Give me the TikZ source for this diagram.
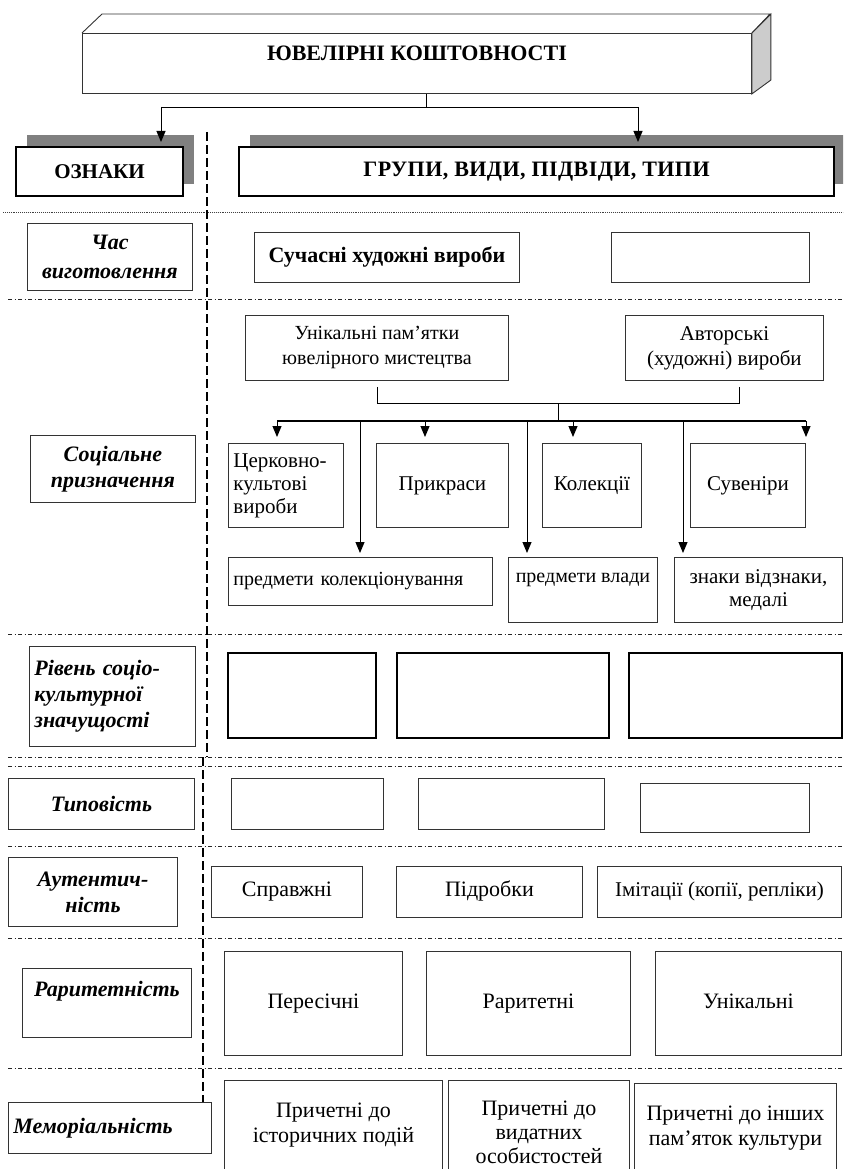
\documentclass[tikz,border=0pt]{standalone}
\usepackage{fontspec}
\setmainfont{Liberation Serif}
\usetikzlibrary{arrows.meta}
\usetikzlibrary{shadows}
\tikzset{
  txt/.style={font=\fontsize{21}{25}\selectfont},
  bigtxt/.style={font=\fontsize{22}{25}\selectfont},
  oneline/.style={text height=15pt, text depth=5pt},
  box/.style={draw=black!80, line width=0.9pt, anchor=north west, inner sep=4pt, txt},
  thickbox/.style={box, draw=black, line width=1.5pt},
  headbox/.style={draw=black, line width=2pt, fill=white, anchor=north west,
    font=\fontsize{21}{25}\selectfont\bfseries,
    drop shadow={shadow xshift=11pt, shadow yshift=12pt, fill=gray, opacity=1}},
  signbox/.style={box, font=\fontsize{22}{26}\selectfont\bfseries\itshape},
  arr/.style={-{Triangle[length=11pt,width=9pt]}, line width=1pt},
  link/.style={line width=0.9pt},
  sep/.style={line width=1pt, black!85, dash pattern=on 4pt off 2.5pt on 1pt off 2.5pt},
  vsep/.style={line width=1.1pt, dash pattern=on 9pt off 4pt},
}

\begin{document}
\begin{tikzpicture}[x=1pt, y=-1pt]
  \clip (0,0) rectangle (843,1169);
  \useasboundingbox (0,0) rectangle (843,1169);

  % title block
  \node[box, fill=white, minimum width=669pt, minimum height=60pt,
    font=\fontsize{22}{26}\selectfont\bfseries, text depth=20pt] (title) at (82,33) {ЮВЕЛІРНІ КОШТОВНОСТІ};
  \draw[link, black!80] (title.north west) -- ++(20,-19) -- ++(668,0) -- (title.north east);
  \draw[link, black!80, fill=black!20] (title.north east) -- ++(19,-19) -- ++(0,66) -- (title.south east) -- cycle;

  \node[headbox, minimum width=167pt, minimum height=49pt] (ozn) at (15,146) {ОЗНАКИ};
  \node[headbox, minimum width=595pt, minimum height=49pt,
    font=\fontsize{22}{25}\selectfont\bfseries\addfontfeature{LetterSpace=2}] (grp) at (238,146) {ГРУПИ, ВИДИ, ПІДВІДИ, ТИПИ};

  \coordinate (split) at (426,107);
  \coordinate (toL) at (161,107);
  \coordinate (toR) at (638,107);
  \draw[link] (title.south -| split) -- (split);
  \draw[link] (toL) -- (toR);
  \draw[arr, shorten >=4pt] (toL) -- (toL |- ozn.north);
  \draw[arr, shorten >=4pt] (toR) -- (toR |- grp.north);

  % separators
  \draw[densely dotted, line width=0.9pt, black!75] (3,212) -- (843,212);
  \foreach \y in {299,634,757,766,846,938,1068}
    \draw[sep] (8,\y) -- (843,\y);
  \draw[vsep] (207,132) -- (207,757);
  \draw[vsep] (203,757) -- (203,1102);

  % time of making
  \node[signbox, minimum width=165pt, minimum height=67pt, align=center] (chas) at (27,223) {Час\\[3pt]виготовлення};
  \node[box, minimum width=265pt, minimum height=50pt, font=\fontsize{22}{25}\selectfont\bfseries] (suchas) at (254,232) {Сучасні художні вироби};
  \node[box, minimum width=198pt, minimum height=50pt] (chasE) at (611,232) {};

  % social purpose
  \node[box, minimum width=263pt, minimum height=65pt, align=center, font=\fontsize{20}{25}\selectfont] (unik) at (245,315) {Унікальні пам’ятки\\ювелірного мистецтва};
  \node[box, minimum width=198pt, minimum height=65pt, align=center] (avt) at (625,315) {Авторські\\(художні) вироби};
  \node[signbox, minimum width=165pt, minimum height=67pt, align=center] (soc) at (30,435) {Соціальне\\призначення};

  \node[box, minimum width=115pt, minimum height=84pt, text width=105pt, align=left, font=\fontsize{21}{23}\selectfont] (tserk) at (228,443) {Церковно-\\культові\\вироби};
  \node[box, minimum width=132pt, minimum height=84pt] (prykr) at (376,443) {Прикраси};
  \node[box, minimum width=99pt, minimum height=84pt] (kolek) at (542,443) {Колекції};
  \node[box, minimum width=115pt, minimum height=84pt] (suven) at (690,443) {Сувеніри};
  \node[box, minimum width=264pt, minimum height=48pt, text width=254pt, align=left, font=\fontsize{20}{25}\selectfont] (predk) at (228,557) {предмети колекціонування};
  \node[box, minimum width=149pt, minimum height=65pt, inner xsep=3pt, text depth=25pt, font=\fontsize{20}{25}\selectfont] (vlady) at (508,557) {предмети влади};
  \node[box, minimum width=168pt, minimum height=65pt, align=center, font=\fontsize{21}{23}\selectfont] (znaky) at (674,557) {знаки відзнаки,\\медалі};

  \coordinate (join) at (558,403);
  \coordinate (fork) at (558,421);
  \draw[link] ([yshift=-6pt]unik.south) |- (join);
  \draw[link] ([xshift=15pt, yshift=-6pt]avt.south) |- (join);
  \draw[link] (join) -- (fork);
  \coordinate (f1) at (277,421);
  \coordinate (f2) at (425,421);
  \coordinate (f3) at (573,421);
  \coordinate (f4) at (806,421);
  \coordinate (g1) at (360,421);
  \coordinate (g2) at (527,421);
  \coordinate (g3) at (683,421);
  \draw[line width=1.1pt] (f1) -- (f4);
  \foreach \c/\n in {f1/tserk, f2/prykr, f3/kolek, f4/suven}
    \draw[arr, shorten >=6pt] (\c) -- (\c |- \n.north);
  \foreach \c/\n in {g1/predk, g2/vlady, g3/znaky}
    \draw[arr, shorten >=4pt] (\c) -- (\c |- \n.north);

  % socio-cultural level
  \node[signbox, minimum width=166pt, minimum height=100pt, text width=156pt, align=left] (riven) at (29,646) {Рівень соціо-\\культурної\\значущості};
  \node[thickbox, minimum width=148pt, minimum height=85pt] (rivA) at (227,652) {};
  \node[thickbox, minimum width=212pt, minimum height=85pt] (rivB) at (396,652) {};
  \node[thickbox, minimum width=213pt, minimum height=85pt] (rivC) at (628,652) {};

  % typicality
  \node[signbox, minimum width=186pt, minimum height=51pt] (typ) at (8,778) {Типовість};
  \node[box, minimum width=152pt, minimum height=51pt] (typA) at (231,778) {};
  \node[box, minimum width=186pt, minimum height=51pt] (typB) at (418,778) {};
  \node[box, minimum width=169pt, minimum height=49pt] (typC) at (640,783) {};

  % authenticity
  \node[signbox, minimum width=169pt, minimum height=69pt, align=center] (aut) at (8,857) {Аутентич-\\ність};
  \node[box, bigtxt, oneline, minimum width=151pt, minimum height=51pt] (sprav) at (211,866) {Справжні};
  \node[box, bigtxt, oneline, minimum width=186pt, minimum height=51pt] (pidr) at (396,866) {Підробки};
  \node[box, oneline, minimum width=244pt, minimum height=51pt] (imit) at (597,866) {Імітації (копії, репліки)};

  % rarity
  \node[signbox, minimum width=169pt, minimum height=69pt, text depth=28pt] (rar) at (22,968) {Раритетність};
  \node[box, bigtxt, minimum width=178pt, minimum height=104pt] (peres) at (224,951) {Пересічні};
  \node[box, bigtxt, minimum width=204pt, minimum height=104pt] (raryt) at (426,951) {Раритетні};
  \node[box, bigtxt, minimum width=186pt, minimum height=104pt, text depth=4.8pt] (unikl) at (655,951) {Унікальні};

  % memoriality
  \node[signbox, minimum width=203pt, minimum height=51pt, text width=193pt, align=left] (mem) at (8,1102) {Меморіальність};
  \node[box, bigtxt, minimum width=218pt, minimum height=90pt, align=center] (prych1) at (224,1080) {Причетні до\\історичних подій};
  \node[box, minimum width=181pt, minimum height=104pt, align=center, font=\fontsize{22}{24}\selectfont] (prych2) at (448,1080) {Причетні до\\видатних\\особистостей};
  \node[box, bigtxt, minimum width=202pt, minimum height=89pt, align=center] (prych3) at (634,1083) {Причетні до інших\\пам’яток культури};
\end{tikzpicture}
\end{document}
